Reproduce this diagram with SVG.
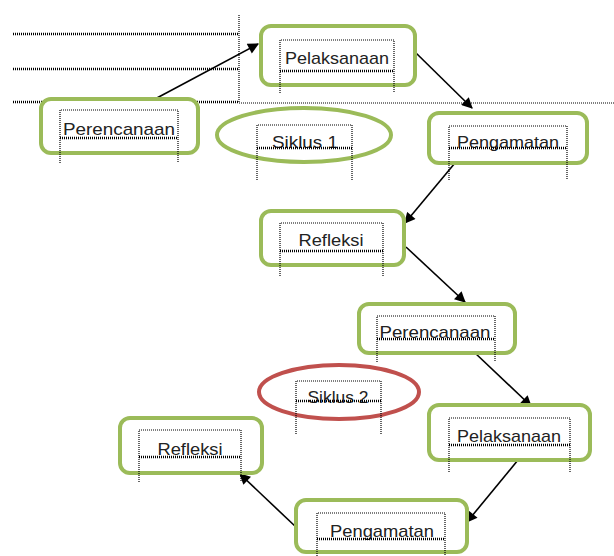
<svg xmlns="http://www.w3.org/2000/svg" width="614" height="556" viewBox="0 0 614 556">
<style>
.box{fill:#fff;stroke:#9BBB59;stroke-width:4}
.ell1{fill:#fff;stroke:#9BBB59;stroke-width:4}
.ell2{fill:#fff;stroke:#C0504D;stroke-width:4}
.t{font-family:"Liberation Sans",Arial,sans-serif;font-size:17px;fill:#222;text-anchor:middle}
.dot{fill:none;stroke:#000;stroke-width:1.2;stroke-dasharray:1 1}
.dotb{fill:none;stroke:#000;stroke-width:2.5;stroke-dasharray:1 1}
.c{stroke:#000;stroke-width:1.6;fill:none;marker-end:url(#ah)}
</style>
<defs>
<marker id="ah" viewBox="0 0 10 10" refX="9" refY="5" markerWidth="12" markerHeight="11" markerUnits="userSpaceOnUse" orient="auto">
<path d="M0,0 L10,5 L0,10 z" fill="#000"/>
</marker>
</defs>
<rect width="614" height="556" fill="#fff"/>
<g id="frame-lines">
<line x1="13" y1="34" x2="239" y2="34" class="dotb"/>
<line x1="13" y1="69" x2="239" y2="69" class="dotb"/>
<line x1="13" y1="102" x2="239" y2="102" class="dotb"/>
<line x1="239" y1="103" x2="614" y2="103" class="dot"/>
<line x1="239" y1="15" x2="239" y2="103" class="dot"/>
</g>
<g id="connectors">
<line x1="155" y1="99" x2="258" y2="44" class="c"/>
<line x1="415" y1="52" x2="472" y2="108" class="c"/>
<line x1="455" y1="163" x2="405" y2="223" class="c"/>
<line x1="406" y1="247" x2="465" y2="302" class="c"/>
<line x1="474" y1="352" x2="531" y2="406" class="c"/>
<line x1="518" y1="460" x2="467" y2="522" class="c"/>
<line x1="297" y1="528" x2="240" y2="474" class="c"/>
</g>
<g id="perencanaan1">
<rect x="41" y="99" width="157" height="54" rx="10" class="box"/>
<text x="119" y="135" class="t" textLength="112" lengthAdjust="spacingAndGlyphs">Perencanaan</text>
<path d="M60,163 V110 H178 V163" class="dot"/><line x1="60" y1="138" x2="178" y2="138" class="dotb"/>
</g>
<g id="pelaksanaan1">
<rect x="261" y="26" width="154" height="59" rx="10" class="box"/>
<text x="337" y="64" class="t" textLength="104" lengthAdjust="spacingAndGlyphs">Pelaksanaan</text>
<path d="M280,93 V40 H394 V93" class="dot"/><line x1="280" y1="71" x2="394" y2="71" class="dotb"/>
</g>
<g id="siklus1">
<ellipse cx="304" cy="135" rx="87" ry="27" class="ell1"/>
<text x="305" y="148" class="t" textLength="66" lengthAdjust="spacingAndGlyphs">Siklus 1</text>
<path d="M257,180 V125 H352 V180" class="dot"/><line x1="257" y1="148" x2="352" y2="148" class="dotb"/>
</g>
<g id="pengamatan1">
<rect x="429" y="113" width="158" height="50" rx="10" class="box"/>
<text x="508" y="148" class="t" textLength="102" lengthAdjust="spacingAndGlyphs">Pengamatan</text>
<path d="M449,180 V126 H567 V180" class="dot"/><line x1="449" y1="148" x2="567" y2="148" class="dotb"/>
</g>
<g id="refleksi1">
<rect x="261" y="211" width="143" height="54" rx="10" class="box"/>
<text x="331" y="246" class="t" textLength="65" lengthAdjust="spacingAndGlyphs">Refleksi</text>
<path d="M280,276 V223 H383 V276" class="dot"/><line x1="280" y1="251" x2="383" y2="251" class="dotb"/>
</g>
<g id="perencanaan2">
<rect x="359" y="304" width="156" height="49" rx="10" class="box"/>
<text x="435" y="338" class="t" textLength="111" lengthAdjust="spacingAndGlyphs">Perencanaan</text>
<path d="M377,362 V316 H495 V362" class="dot"/><line x1="377" y1="339" x2="495" y2="339" class="dotb"/>
</g>
<g id="siklus2">
<ellipse cx="339" cy="392" rx="80" ry="27" class="ell2"/>
<text x="338" y="403" class="t" textLength="61" lengthAdjust="spacingAndGlyphs">Siklus 2</text>
<path d="M296,434 V381 H381 V434" class="dot"/><line x1="296" y1="401" x2="381" y2="401" class="dotb"/>
</g>
<g id="pelaksanaan2">
<rect x="429" y="405" width="161" height="55" rx="10" class="box"/>
<text x="509" y="442" class="t" textLength="104" lengthAdjust="spacingAndGlyphs">Pelaksanaan</text>
<path d="M449,472 V418 H570 V472" class="dot"/><line x1="449" y1="445" x2="570" y2="445" class="dotb"/>
</g>
<g id="refleksi2">
<rect x="120" y="418" width="142" height="55" rx="10" class="box"/>
<text x="190" y="455" class="t" textLength="65" lengthAdjust="spacingAndGlyphs">Refleksi</text>
<path d="M139,482 V430 H241 V482" class="dot"/><line x1="139" y1="457" x2="241" y2="457" class="dotb"/>
</g>
<g id="pengamatan2">
<rect x="296" y="500" width="171" height="52" rx="10" class="box"/>
<text x="382" y="537" class="t" textLength="104" lengthAdjust="spacingAndGlyphs">Pengamatan</text>
<path d="M317,556 V513 H445 V556" class="dot"/><line x1="317" y1="539" x2="445" y2="539" class="dotb"/>
</g>
</svg>
